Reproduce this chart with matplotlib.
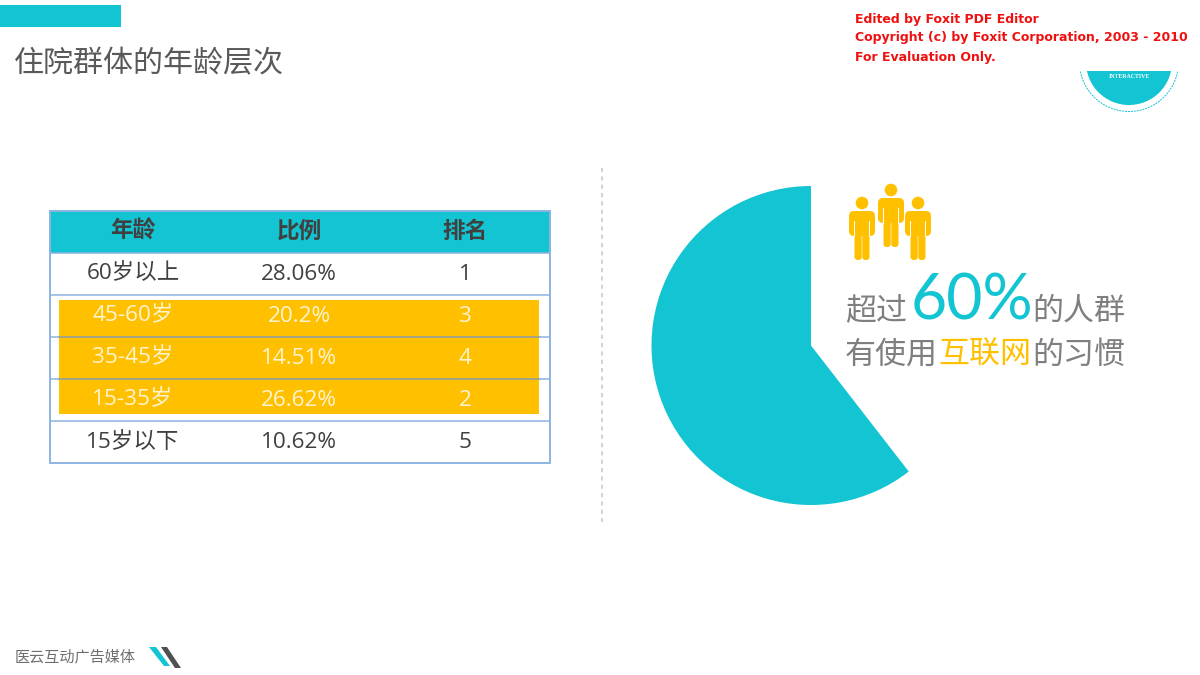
import matplotlib.pyplot as plt
from matplotlib.patches import Circle, FancyBboxPatch, Polygon, Rectangle

plt.rcParams['font.family'] = ['Open Sans', 'Noto Sans CJK SC', 'DejaVu Sans']

# table data
headers = ["年龄", "比例", "排名"]
ages = ["60岁以上", "45-60岁", "35-45岁", "15-35岁", "15岁以下"]
shares = ["28.06%", "20.2%", "14.51%", "26.62%", "10.62%"]
ranks = ["1", "3", "4", "2", "5"]
highlighted = [False, True, True, True, False]

# pie data
pie_values = [60.5, 39.5]

TEAL = "#13C4D2"
ORANGE = "#FFC000"
GREY = "#7F7F7F"
DARK = "#404040"
LINE = "#8DB3E2"

fig = plt.figure(figsize=(12, 6.75), dpi=100)
ax = fig.add_axes([0, 0, 1, 1])
ax.set_xlim(0, 1200)
ax.set_ylim(675, 0)
ax.axis("off")

# header bar and title
ax.add_patch(Rectangle((0, 5), 121, 22, color=TEAL, lw=0))
ax.text(14, 65, "住院群体的年龄层次", fontsize=21.6, color="#595959", va="center")

# table
col_x = [133, 299, 465]
top, header_h, row_h = 211, 42, 42
ax.add_patch(Rectangle((50, top), 500, header_h, color=TEAL, lw=0))
ax.add_patch(Rectangle((59, 300), 480, 114, color=ORANGE, lw=0, zorder=2))
for x, h in zip(col_x, headers):
    ax.text(x, top + 21, h, fontsize=16.3, fontweight="bold", color=DARK,
            ha="center", va="center", zorder=4)
for i in range(len(ages)):
    y = top + header_h + row_h * i
    ax.plot([50, 550], [y, y], color=LINE, lw=1.1, zorder=3)
    # the rule looks grey where it runs over the orange block
    if i > 0 and highlighted[i] and highlighted[i - 1]:
        ax.plot([59, 539], [y, y], color="#A3A17A", lw=1.1, zorder=3.1)
    c = "#FFF4D0" if highlighted[i] else DARK
    for x, s in zip(col_x, [ages[i], shares[i], ranks[i]]):
        ax.text(x, y + 21, s, fontsize=16.2, color=c, ha="center", va="center", zorder=4)
bottom = top + header_h + row_h * len(ages)
ax.add_patch(Rectangle((50, top), 500, bottom - top, fill=False, ec=LINE, lw=1.4, zorder=3))

# divider
ax.plot([602, 602], [168, 522], color="#D4D4D4", lw=1.5, ls=(0, (2, 2)))

# people icons
def person(cx, head_y, color=ORANGE):
    ax.add_patch(Circle((cx, head_y), 6.3, color=color, lw=0))
    y0 = head_y + 8
    ax.add_patch(FancyBboxPatch((cx - 13, y0), 26, 25, boxstyle="round,pad=0,rounding_size=5",
                                color=color, lw=0))
    ax.add_patch(FancyBboxPatch((cx - 7.5, y0 + 14), 7.2, 35, boxstyle="round,pad=0,rounding_size=3",
                                color=color, lw=0))
    ax.add_patch(FancyBboxPatch((cx + 0.3, y0 + 14), 7.2, 35, boxstyle="round,pad=0,rounding_size=3",
                                color=color, lw=0))
    # white slits between arms and body
    ax.add_patch(Rectangle((cx - 8, y0 + 10), 1, 15.5, color="white", lw=0))
    ax.add_patch(Rectangle((cx + 7, y0 + 10), 1, 15.5, color="white", lw=0))

person(891, 190)
person(862, 203)
person(918, 203)

# caption, built piece by piece for the colours
big = 22.3
ax.text(845, 312, "超过", fontsize=big, color=GREY, va="center")
ax.text(911, 301, "60%", fontsize=45, color=TEAL, va="center", family=["Lato", "DejaVu Sans"])
ax.text(1032, 312, "的人群", fontsize=big, color=GREY, va="center")
ax.text(845, 356, "有使用", fontsize=big, color=GREY, va="center")
ax.text(938, 356, "互联网", fontsize=big, color=ORANGE, va="center")
ax.text(1032, 356, "的习惯", fontsize=big, color=GREY, va="center")

# round logo, cut off by the watermark box
ax.add_patch(Circle((1129, 62), 43, color=TEAL, lw=0))
ax.add_patch(Circle((1129, 62), 49.5, fill=False, ec=TEAL, lw=0.7, ls=(0, (2, 1))))
ax.add_patch(Rectangle((1050, 0), 150, 71, color="white", lw=0, zorder=2.5))
ax.text(1129, 76.5, "INTERACTIVE", fontsize=4.2, fontweight="bold", color="white",
        ha="center", va="center", family=["Liberation Serif"])

# watermark
for y, s in zip([19, 38, 57], ["Edited by Foxit PDF Editor",
                               "Copyright (c) by Foxit Corporation, 2003 - 2010",
                               "For Evaluation Only."]):
    ax.text(855, y, s, fontsize=8.98, fontweight="bold", color="#F01010", va="center",
            family=["DejaVu Sans"], zorder=5)

# footer
ax.text(15, 658, "医云互动广告媒体", fontsize=10.9, color="#6E6E6E", va="center")
ax.add_patch(Polygon([(149, 647), (156, 647), (170, 666), (164, 666)], color=TEAL, lw=0))
ax.add_patch(Polygon([(161, 647), (167, 647), (181, 668), (175, 668)], color="#505050", lw=0))

# pie
pie_ax = fig.add_axes([651 / 1200, 1 - 505 / 675, 320 / 1200, 319 / 675])
wedges, _ = pie_ax.pie(pie_values, colors=[TEAL, "none"], startangle=90, radius=1)
pie_ax.set_xlim(-1, 1)
pie_ax.set_ylim(-1, 1)

fig.savefig("out.png", dpi=100, facecolor="white")
